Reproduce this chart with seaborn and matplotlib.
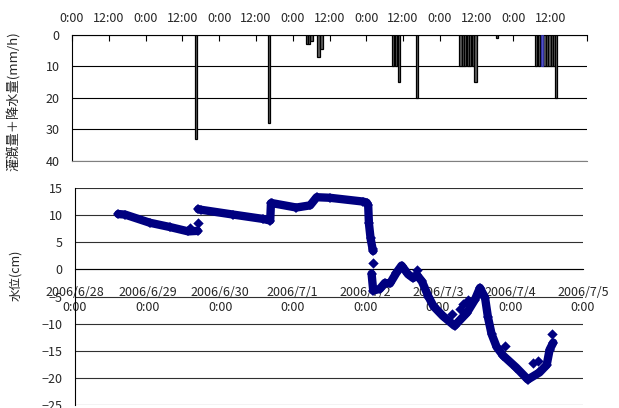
import matplotlib.pyplot as plt
import numpy as np
import pandas as pd
import seaborn as sns

# 灌漑量＋降水量 (hours from 2006/6/28 0:00, mm/h)
bar_hours = [40.5, 64.3, 76.6, 77.4, 78.1, 80.4, 81.4,
             104.8, 105.7, 106.6, 112.6,
             126.7, 127.5, 128.2, 129.1, 129.9, 130.8, 131.7, 138.7,
             151.4, 152.3, 154.2, 155.0, 155.8, 156.6, 157.4, 157.9]
bar_mm = [33, 28, 3, 3, 2, 7, 4.5,
          10, 10, 15, 20,
          10, 10, 10, 10, 10, 10, 15, 1,
          10, 10, 10, 10, 10, 10, 10, 20]
rain_hours = [153.4]
rain_mm = [10]

top_labels = ["0:00", "12:00"] * 7

# 水位 (days from 2006/6/28 0:00, cm), three continuous runs
wl_day_1 = [0.596, 0.69, 1.03, 1.31, 1.56, 1.69]
wl_cm_1 = [10.2, 10.1, 8.6, 7.8, 7.0, 7.1]
wl_day_2 = [1.70, 1.73, 2.18, 2.59, 2.69, 2.70, 2.72, 3.05, 3.24, 3.33,
            3.51, 3.97, 4.02, 4.04, 4.05, 4.073, 4.10, 4.109]
wl_cm_2 = [11.1, 11.0, 10.1, 9.3, 9.0, 12.2, 12.2, 11.4, 11.8, 13.3,
           13.2, 12.5, 12.3, 11.8, 8.5, 5.7, 3.8, 3.4]
wl_day_3 = [4.087, 4.109, 4.20, 4.27, 4.34, 4.43, 4.50, 4.59, 4.66, 4.71,
            4.78, 4.87, 4.94, 5.07, 5.23, 5.40, 5.51, 5.58, 5.65, 5.69,
            5.74, 5.81, 5.90, 6.08, 6.24, 6.40, 6.50, 6.54, 6.59]
wl_cm_3 = [-0.8, -3.9, -3.6, -2.5, -2.6, -0.6, 0.7, -0.9, -1.6, -1.0,
           -2.2, -5.0, -6.8, -8.6, -10.4, -8.0, -5.6, -3.4, -5.2, -8.8,
           -11.9, -14.3, -15.9, -18.1, -20.3, -19.0, -17.6, -14.8, -13.5]
# isolated readings
odd_day = [1.58, 1.69, 4.10, 4.71, 5.19, 5.30, 5.35, 5.42, 5.92, 6.31, 6.38, 6.57]
odd_cm = [7.7, 8.6, 1.2, -0.2, -8.2, -7.3, -6.4, -5.7, -14.1, -17.2, -16.9, -11.9]

date_labels = ["2006/6/28\n0:00", "2006/6/29\n0:00", "2006/6/30\n0:00",
               "2006/7/1\n0:00", "2006/7/2\n0:00", "2006/7/3\n0:00",
               "2006/7/4\n0:00", "2006/7/5\n0:00"]

NAVY = "#000080"

sns.set_style("white")
plt.rcParams["font.family"] = ["Noto Sans CJK JP", "DejaVu Sans"]
plt.rcParams["font.size"] = 9

fig = plt.figure(figsize=(6.19, 4.08), dpi=100)

# ---- top: irrigation + rainfall
ax1 = fig.add_axes([72 / 619, 1 - 161 / 408, 515 / 619, 126 / 408])
ax1.set_axisbelow(True)
ax1.bar(np.array(bar_hours) / 24, bar_mm, width=0.8 / 24, color="#606060",
        edgecolor="black", linewidth=0.9, zorder=3)
ax1.bar(np.array(rain_hours) / 24, rain_mm, width=0.8 / 24, color="#6060d0",
        edgecolor="#3030a0", linewidth=0.9, zorder=3)
ax1.set_xlim(0, 7)
ax1.set_ylim(40, 0)
ax1.xaxis.tick_top()
ax1.set_xticks(np.arange(0, 7.01, 0.5))
ax1.set_xticklabels(top_labels + [""])
ax1.tick_params(axis="x", direction="in", length=4, width=0.8, pad=7,
                color="black")
ax1.set_yticks([0, 10, 20, 30, 40])
ax1.tick_params(axis="y", length=0, pad=9)
ax1.yaxis.grid(True, color="black", linewidth=0.8)
ax1.spines["right"].set_visible(False)
ax1.spines["top"].set_color("black")
ax1.spines["left"].set_color("black")
ax1.spines["bottom"].set_color("#808080")
ax1.set_ylabel("灌漑量＋降水量(mm/h)", fontsize=9.5)
ax1.yaxis.set_label_coords(-0.099, 0.476)

# ---- bottom: water level
ax2 = fig.add_axes([75 / 619, 1 - 405 / 408, 508 / 619, 217 / 408])
runs = [(wl_day_1, wl_cm_1), (wl_day_2, wl_cm_2), (wl_day_3, wl_cm_3)]
df = pd.concat([pd.DataFrame({"day": d, "cm": v, "run": i})
                for i, (d, v) in enumerate(runs)], ignore_index=True)
sns.lineplot(data=df, x="day", y="cm", units="run", estimator=None,
             sort=False, color=NAVY, linewidth=6, marker="D", markersize=5,
             markeredgewidth=0, solid_capstyle="round",
             solid_joinstyle="round", legend=False, ax=ax2, zorder=3)
sns.scatterplot(x=odd_day, y=odd_cm, marker="D", s=28, color=NAVY,
                linewidth=0, ax=ax2, zorder=3)
ax2.set_xlim(0, 7)
ax2.set_ylim(-25, 15)
ax2.set_yticks(np.arange(-25, 16, 5))
ax2.yaxis.grid(True, color="#303030", linewidth=0.8)
ax2.tick_params(axis="y", length=0, pad=9)
ax2.set_xticks(range(8))
ax2.set_xticklabels(date_labels)
ax2.tick_params(axis="x", direction="in", length=4, width=0.8, pad=12,
                color="black")
for lab in ax2.get_xticklabels():
    lab.set_linespacing(1.3)
ax2.spines["bottom"].set_position(("data", 0))
ax2.spines["bottom"].set_color("black")
ax2.spines["left"].set_color("black")
ax2.spines["top"].set_visible(False)
ax2.spines["right"].set_visible(False)
ax2.set_xlabel("")
ax2.set_ylabel("水位(cm)", fontsize=9)
ax2.yaxis.set_label_coords(-0.104, 0.599)

fig.savefig("out.png", dpi=100)
